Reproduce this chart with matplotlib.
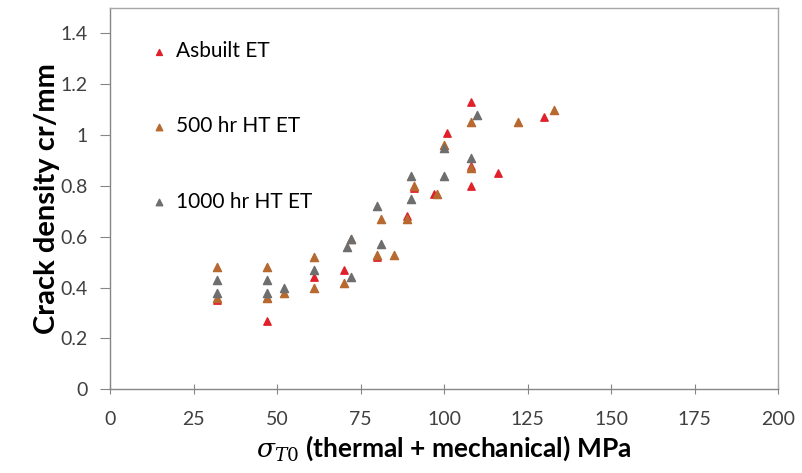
import matplotlib.pyplot as plt
from matplotlib.ticker import FuncFormatter

plt.rcParams['font.family'] = ['Lato', 'DejaVu Sans']
plt.rcParams['mathtext.fontset'] = 'custom'
plt.rcParams['mathtext.it'] = 'DejaVu Serif:italic'
plt.rcParams['mathtext.rm'] = 'DejaVu Serif'

# Asbuilt ET
asb_x = [32, 47, 47, 61, 70, 80, 89, 91, 97, 101, 108, 108, 108, 116, 130]
asb_y = [0.35, 0.27, 0.36, 0.44, 0.47, 0.52, 0.68, 0.79, 0.77, 1.01, 1.13, 0.88, 0.80, 0.85, 1.07]

# 500 hr HT ET
h500_x = [32, 32, 47, 47, 52, 61, 61, 70, 72, 80, 81, 85, 89, 91, 98, 100, 108, 108, 122, 133]
h500_y = [0.48, 0.36, 0.48, 0.36, 0.38, 0.52, 0.40, 0.42, 0.59, 0.53, 0.67, 0.53, 0.67, 0.80,
          0.77, 0.96, 0.87, 1.05, 1.05, 1.10]

# 1000 hr HT ET
h1000_x = [32, 32, 47, 47, 52, 61, 71, 72, 72, 80, 81, 90, 90, 100, 100, 108, 110]
h1000_y = [0.43, 0.38, 0.43, 0.38, 0.40, 0.47, 0.56, 0.59, 0.44, 0.72, 0.57, 0.84, 0.75,
           0.95, 0.84, 0.91, 1.08]

x_ticks = [0, 25, 50, 75, 100, 125, 150, 175, 200]
y_ticks = [0, 0.2, 0.4, 0.6, 0.8, 1.0, 1.2, 1.4]

fig = plt.figure(figsize=(8.03, 4.73), dpi=100)
ax = fig.add_axes([0.137, 0.177, 0.832, 0.806])

ax.scatter(asb_x, asb_y, marker='^', s=28, color='#e0202a', label='Asbuilt ET', zorder=3)
ax.scatter(h500_x, h500_y, marker='^', s=34, color='#b8692f', label='500 hr HT ET', zorder=3)
ax.scatter(h1000_x, h1000_y, marker='^', s=34, color='#6e6e6e', label='1000 hr HT ET', zorder=3)

ax.set_xlim(0, 200)
ax.set_ylim(0, 1.5)
ax.set_xticks(x_ticks)
ax.set_yticks(y_ticks)
ax.yaxis.set_major_formatter(FuncFormatter(lambda v, p: f"{v:g}"))

for sp in ax.spines.values():
    sp.set_color('#a6a6a6')
    sp.set_linewidth(1.0)
ax.spines['bottom'].set_color('#868686')
ax.spines['left'].set_color('#868686')

ax.tick_params(axis='x', direction='inout', length=7, color='#868686',
               labelsize=14, labelcolor='#404040', pad=12)
ax.tick_params(axis='y', direction='out', length=7, color='#868686',
               labelsize=14, labelcolor='#404040', pad=9)

ax.set_xlabel(r'$\sigma_{T\mathrm{0}}$ (thermal + mechanical) MPa', fontsize=19,
              fontweight='bold', labelpad=4)
ax.set_ylabel('Crack density cr/mm', fontsize=21, fontweight='bold', labelpad=0)

ax.legend(loc='upper left', frameon=False, fontsize=15, labelspacing=2.65,
          handletextpad=-0.2, markerscale=0.8, borderaxespad=0.0,
          bbox_to_anchor=(0.03, 0.935))

fig.savefig('out.png', dpi=100)
